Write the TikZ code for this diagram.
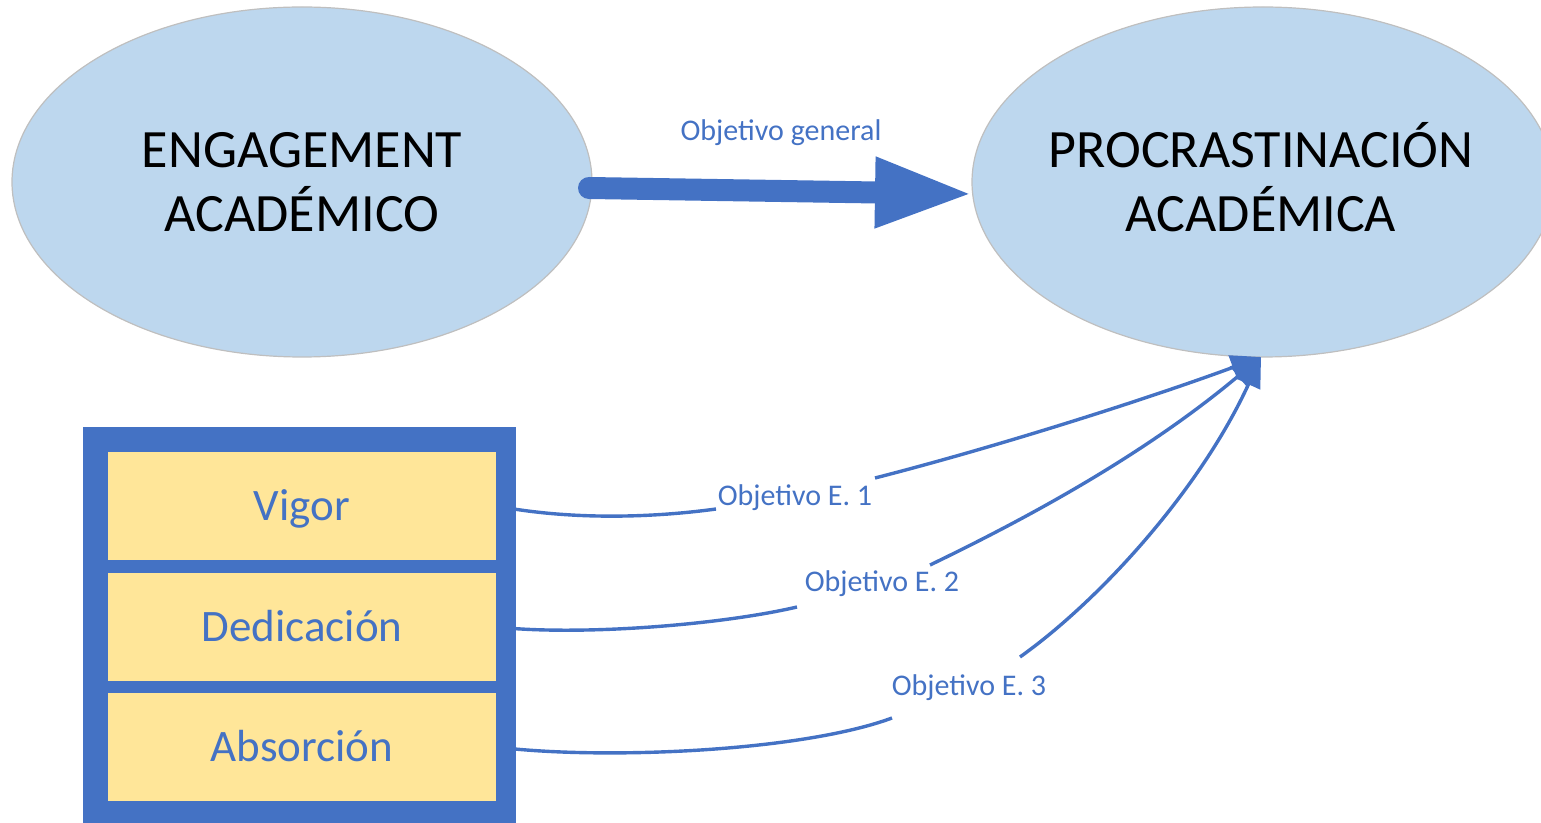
\documentclass[tikz,border=0pt]{standalone}
\usepackage{fontspec}
\setmainfont{Carlito}
\usetikzlibrary{shapes.geometric,arrows.meta}
\definecolor{ellfill}{HTML}{BDD7EE}
\definecolor{ellline}{HTML}{BFBFBF}
\definecolor{accblue}{HTML}{4472C4}
\definecolor{paleyel}{HTML}{FFE699}
\begin{document}
\begin{tikzpicture}[x=0.5pt,y=-0.5pt,
 ell/.style={ellipse, draw=ellline, line width=0.6pt, fill=ellfill, inner sep=0pt},
 ttl/.style={font=\fontsize{27}{31}\selectfont, text=black, anchor=base, inner sep=0pt},
 dimbox/.style={rectangle, fill=paleyel, minimum width=194pt, minimum height=54pt, inner sep=0pt, text=accblue, font=\fontsize{22.5}{27}\selectfont, text height=14.5pt, text depth=0pt},
 framebox/.style={rectangle, fill=accblue, minimum width=216.5pt, minimum height=198pt, inner sep=0pt},
 lbl/.style={text=accblue, font=\fontsize{15}{18}\selectfont, text height=9.7pt, text depth=0pt, inner sep=0pt},
 conn/.style={draw=accblue, line width=1.7pt, -{Triangle[length=15pt,width=12.5pt]}},
 bigarrow/.style={draw=accblue, line width=11pt, line cap=round, -{Triangle[length=49pt,width=32.5pt]}}
]
\useasboundingbox (0,0) rectangle (1541,823);
% ellipses
\node[ell, minimum width=290pt, minimum height=175pt] (e1) at (302,182) {};
\node[ell, minimum width=291pt, minimum height=175pt] (e2) at (1263,182) {};
\node[ttl] (t1) at (302,168) {ENGAGEMENT};
\node[ttl] (t2) at (302,232) {ACADÉMICO};
\node[ttl] (t3) at (1261,168) {PROCRASTINACIÓN};
\node[ttl] (t4) at (1261,232) {ACADÉMICA};
% general objective arrow
\coordinate (ga) at (589,188);
\coordinate (gb) at (973,194);
\draw[bigarrow] (ga) -- (gb);
\node[lbl] (l0) at (781,131) {Objetivo general};
% dimension box
\node[framebox] (frame) at (299.5,625) {};
\node[dimbox] (vig) at (302,506) {Vigor};
\node[dimbox] (ded) at (302,627) {Dedicación};
\node[dimbox] (abs) at (302,747) {Absorción};
% specific objective connectors
\coordinate (tip) at (1261,357);
\draw[conn] (vig.east) .. controls (570,520) and (650,518) .. (716,509)
  (875,478) .. controls (1000,446) and (1150,398) .. (tip);
\draw[conn] (ded.east) .. controls (580,636) and (720,625) .. (797,607)
  (930,565) .. controls (1040,512) and (1150,450) .. (tip);
\draw[conn] (abs.east) .. controls (600,760) and (800,752) .. (892,718)
  (1020,657) .. controls (1100,600) and (1200,490) .. (tip);
\node[lbl] (l1) at (795,496) {Objetivo E. 1};
\node[lbl] (l2) at (882,582) {Objetivo E. 2};
\node[lbl] (l3) at (969,686) {Objetivo E. 3};
\end{tikzpicture}
\end{document}
